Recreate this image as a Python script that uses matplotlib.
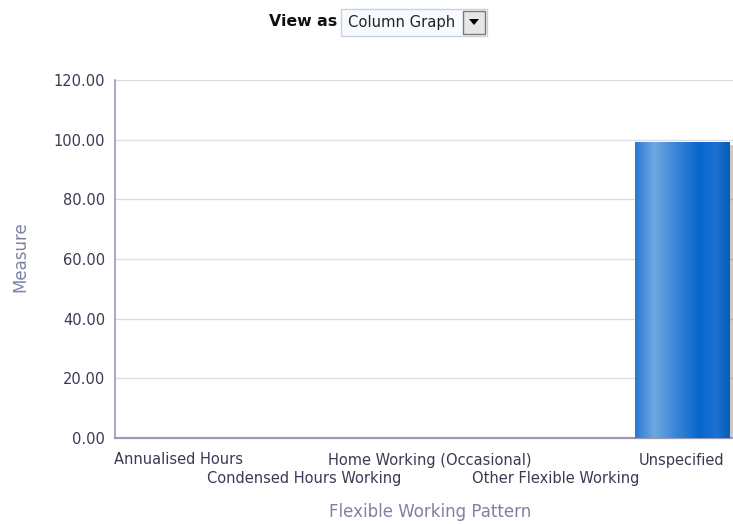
import matplotlib
matplotlib.use("Agg")
import matplotlib.pyplot as plt
import numpy as np
from matplotlib.patches import Rectangle, Polygon
from matplotlib.colors import LinearSegmentedColormap

categories = ["Annualised Hours", "Condensed Hours Working", "Home Working (Occasional)",
              "Other Flexible Working", "Unspecified"]
values = [0.0, 0.0, 0.0, 0.0, 99.3]
yticks = [0, 20, 40, 60, 80, 100, 120]
ytick_labels = ["0.00", "20.00", "40.00", "60.00", "80.00", "100.00", "120.00"]

W, H = 733, 524
fig = plt.figure(figsize=(W / 100, H / 100), dpi=100)
plt.rcParams['font.family'] = ['DejaVu Sans']

left_px, right_px, top_px, bot_px = 115, 745, 80, 438
ax = fig.add_axes([left_px / W, 1 - bot_px / H, (right_px - left_px) / W, (bot_px - top_px) / H])
ax.set_xlim(-0.5, len(categories) - 0.5)
ax.set_ylim(0, 120)

tick_col = "#3a3a55"
axis_col = "#9a9ab8"
grid_col = "#dcdce6"
label_col = "#7d82a3"

for s in ["top", "right"]:
    ax.spines[s].set_visible(False)
ax.spines["left"].set_color(axis_col)
ax.spines["bottom"].set_color(axis_col)
ax.spines["left"].set_linewidth(1.2)
ax.spines["bottom"].set_linewidth(1.6)

ax.set_yticks(yticks)
ax.set_yticklabels(ytick_labels, fontsize=10.5, color=tick_col)
ax.tick_params(axis="y", length=0, pad=7)
ax.set_xticks([])
ax.yaxis.grid(True, color=grid_col, linewidth=1)
ax.set_axisbelow(True)

# bars with gradient
cmap = LinearSegmentedColormap.from_list("bar", [
    (0.0, "#2a78d4"), (0.2, "#6ea8e0"), (0.4, "#3f8ad8"),
    (0.68, "#0866cc"), (0.85, "#1a72d2"), (1.0, "#0a5cb8")])
grad = np.linspace(0, 1, 256).reshape(1, -1)
bw = 0.75
for i, v in enumerate(values):
    if v <= 0:
        continue
    for k, a in enumerate([0.10, 0.07, 0.04]):
        sh = Rectangle((i - bw / 2 + 0.02, 0), bw + 0.02 + 0.025 * k, v - 1.0,
                       facecolor="#000000", alpha=a, edgecolor="none", zorder=2)
        ax.add_patch(sh)
    rect = Rectangle((i - bw / 2, 0), bw, v, facecolor="none", edgecolor="none", zorder=3)
    ax.add_patch(rect)
    im = ax.imshow(grad, extent=(i - bw / 2, i + bw / 2, 0, v), aspect="auto",
                   cmap=cmap, zorder=3, interpolation="bilinear")
    im.set_clip_path(rect)
ax.set_xlim(-0.5, len(categories) - 0.5)
ax.set_ylim(0, 120)

# staggered category labels
for i, c in enumerate(categories):
    y_off = -22 if i % 2 == 0 else -40
    ax.annotate(c, xy=(i, 0), xycoords="data", xytext=(0, y_off), textcoords="offset pixels",
                ha="center", va="center", fontsize=10.5, color=tick_col, annotation_clip=False)

fig.text(430 / W, 1 - 512 / H, "Flexible Working Pattern", ha="center", va="center",
         fontsize=12, color=label_col)
fig.text(20 / W, 1 - 257 / H, "Measure", ha="center", va="center", rotation=90,
         fontsize=12, color=label_col)

# "View as" control
fig.text(337 / W, 1 - 22 / H, "View as", ha="right", va="center", fontsize=11.3,
         fontweight="bold", color="#111111")
box = Rectangle((341 / W, 1 - 36 / H), 146 / W, 27 / H, transform=fig.transFigure,
                facecolor="#f7faff", edgecolor="#c9d3de", linewidth=1)
fig.add_artist(box)
fig.text(348 / W, 1 - 22 / H, "Column Graph", ha="left", va="center", fontsize=10.6,
         color="#222222")
btn = Rectangle((463 / W, 1 - 34 / H), 22 / W, 23 / H, transform=fig.transFigure,
                facecolor="#e6e6e6", edgecolor="#7a7a7a", linewidth=1)
fig.add_artist(btn)
tri = Polygon([(469 / W, 1 - 19 / H), (479 / W, 1 - 19 / H), (474 / W, 1 - 25 / H)],
              closed=True, transform=fig.transFigure, facecolor="#000000", edgecolor="none")
fig.add_artist(tri)

fig.savefig("out.png", dpi=100)
